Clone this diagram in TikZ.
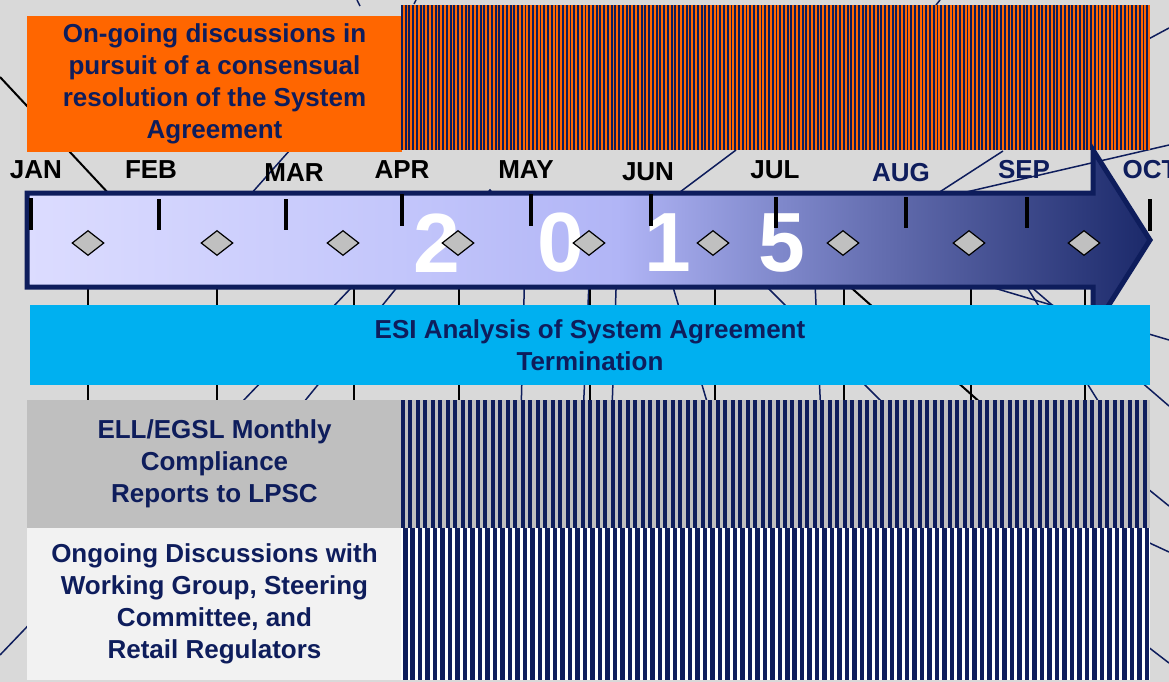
\documentclass[tikz,border=0pt]{standalone}
\usepackage{fontspec}
\setmainfont{Liberation Sans}
\usetikzlibrary{shapes.geometric}

\definecolor{navy}{HTML}{0E1D5C}
\definecolor{bggray}{HTML}{D9D9D9}
\definecolor{talkorange}{HTML}{FF6600}
\definecolor{esicyan}{HTML}{00B0F0}
\definecolor{reportgray}{HTML}{BFBFBF}
\definecolor{paper}{HTML}{F2F2F2}
\definecolor{gemgray}{HTML}{C0C0C0}
\definecolor{lavA}{HTML}{DCDCFF}
\definecolor{lavB}{HTML}{C3C6FB}
\definecolor{lavC}{HTML}{B1B5F6}
\definecolor{lavD}{HTML}{8089CC}
\definecolor{lavE}{HTML}{5F69AB}
\definecolor{lavF}{HTML}{1B296A}

\pgfdeclarehorizontalshading{yearshade}{100bp}{color(0bp)=(lavA); color(25bp)=(lavA);
  color(41.6bp)=(lavB); color(51.3bp)=(lavC); color(58.4bp)=(lavD);
  color(63.8bp)=(lavE); color(75bp)=(lavF); color(100bp)=(lavF)}

\begin{document}
\begin{tikzpicture}
      [x=1pt,y=-1pt,%%%%%%%%%%%%%%%%%%%%%%%%%%%%%%
      box/.style={rectangle,inner sep=0pt,align=center,text=navy,
        font=\bfseries\fontsize{26}{32}\selectfont},
      month/.style={inner sep=0pt,font=\bfseries\fontsize{26}{26}\selectfont},
      monthtick/.style={line width=4.5pt},
      milestone/.style={diamond,draw=black,line width=1.2pt,fill=gemgray,
        minimum width=32pt,minimum height=25pt,inner sep=0pt},
      digit/.style={inner sep=0pt,text=white,font=\bfseries\fontsize{84}{84}\selectfont},
      net/.style={draw=navy,line width=1.5pt},
      drop/.style={draw=black,line width=2pt},
      ]%%%%%%%%%%%%%%%%%%%%%%%%%%%%%%

      \useasboundingbox (0,0) rectangle (1169,682);
      \clip (0,0) rectangle (1169,682);
      \fill[bggray] (0,0) rectangle (1169,682);

      % lines in the background
      \draw[drop] (0,77) -- (110,195);
      \draw[net] (250,195) -- (290,150);
      \draw[net] (676,195) -- (736,150);
      \draw[net] (935,195) -- (1003,151);
      \draw[net] (962,193) -- (1169,145);
      \draw[net] (1100,65) -- (1169,28);
      \draw[net] (357,0) -- (360,6);
      \draw[net] (416,0) -- (414,4);
      \draw[net] (940,0) -- (936,5);
      \draw[net] (484,197) -- (490,190) -- (496,197);
      \draw[net] (440,195) -- (0,655);
      \draw[net] (472,195) -- (200,530);
      \draw[net] (525,260) -- (518,530);
      \draw[net] (590,260) -- (578,530);
      \draw[net] (617,260) -- (608,530);
      \draw[net] (665,260) -- (745,530);
      \draw[net] (740,260) -- (900,420);
      \draw[net] (814,260) -- (826,530);
      \draw[net] (900,260) -- (1169,340);
      \draw[net] (1000,260) -- (1169,406);
      \draw[net] (1010,260) -- (1110,420);
      \draw[net] (1100,450) -- (1169,506);
      \draw[net] (1100,520) -- (1169,552);
      \draw[net] (1100,610) -- (1169,663);
      \draw[drop] (820,260) -- (1000,420);
      \foreach \x in {88,217,354,459,590,715,844,971,1085}
        \draw[drop] (\x,287) -- (\x,400);

      % top row
      \node[box,fill=talkorange,minimum width=375pt,minimum height=135pt]
        (talks) at (214.5,84) {On-going discussions in\\pursuit of a consensual\\
        resolution of the System\\Agreement};
      \fill[talkorange] (401,5) rectangle (1150,150);
      \foreach \i in {0,1,...,199}
        \fill[navy] ({401+3.745*\i},5) rectangle ++(1.9,145);

      % months
      \node[month] (jan) at (36,170) {JAN};
      \node[month] (feb) at (151,170) {FEB};
      \node[month] (mar) at (294,173) {MAR};
      \node[month] (apr) at (402,170) {APR};
      \node[month] (may) at (526,170) {MAY};
      \node[month] (jun) at (648,172) {JUN};
      \node[month] (jul) at (775,170) {JUL};
      \node[month,text=navy] (aug) at (901,173) {AUG};
      \node[month,text=navy] (sep) at (1024,170) {SEP};
      \node[month,text=navy] (oct) at (1150,170) {OCT};

      % the year arrow
      \shadedraw[shading=yearshade,draw=navy,line width=5pt]
        (27,193) -- (1093,193) -- (1093,150) -- (1150,240) -- (1093,330)
        -- (1093,287) -- (27,287) -- cycle;
      \node[digit] (y2) at (437,243) {2};
      \node[digit] (y0) at (561,243) {0};
      \node[digit] (y1) at (668,243) {1};
      \node[digit] (y5) at (782,243) {5};
      \draw[monthtick] (31,198) -- (31,230);
      \foreach \x in {159,286}
        \draw[monthtick] (\x,199) -- (\x,230);
      \foreach \x in {402,531,651}
        \draw[monthtick] (\x,194) -- (\x,226);
      \foreach \x in {776,906,1027}
        \draw[monthtick] (\x,197) -- (\x,228);
      \draw[monthtick] (1150,199) -- (1150,231);
      \foreach \x [count=\n] in {88,217,343,458,589,713,843,969,1084}
        \node[milestone] (d\n) at (\x,243) {};

      % ESI analysis
      \node[box,fill=esicyan,minimum width=1120pt,minimum height=80pt]
        (esi) at (590,345) {ESI Analysis of System Agreement\\Termination};

      % reports and discussions
      \node[box,fill=reportgray,minimum width=375pt,minimum height=128pt]
        (reports) at (214.5,464) {ELL/EGSL Monthly\\Compliance\\Reports to LPSC};
      \node[box,fill=paper,minimum width=375pt,minimum height=152pt]
        (groups) at (214.5,604) {Ongoing Discussions with\\Working Group, Steering\\
        Committee, and\\Retail Regulators};
      \fill[reportgray] (401,400) rectangle (1150,528);
      \fill[white] (401,528) rectangle (1150,680);
      \foreach \i in {0,1,...,99}{
        \fill[navy] ({401+7.49*\i},400) rectangle ++(4,128);
        \fill[navy] ({403+7.49*\i},528) rectangle ++(4.5,152);
      }
    \end{tikzpicture}
\end{document}
